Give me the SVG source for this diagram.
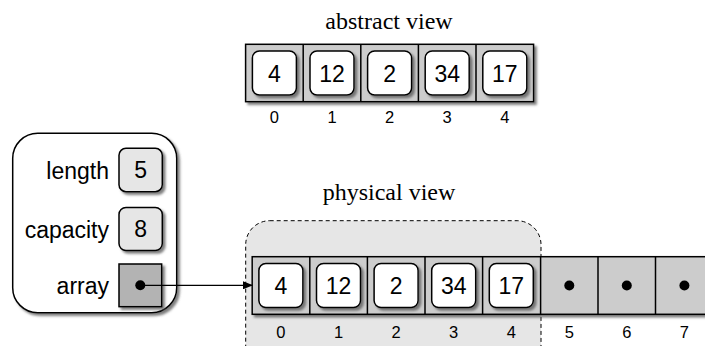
<svg xmlns="http://www.w3.org/2000/svg" width="705" height="346" viewBox="0 0 705 346">
<defs>
<filter id="sh" x="-20%" y="-20%" width="140%" height="140%">
<feDropShadow dx="2.5" dy="2.5" stdDeviation="0.8" flood-color="#555" flood-opacity="0.75"/>
</filter>
<marker id="arr" markerWidth="10" markerHeight="8" refX="9" refY="4" orient="auto" markerUnits="userSpaceOnUse">
<path d="M0,0 L10,4 L0,8 z" fill="#000"/>
</marker>
</defs>
<style>
.title{font-family:"Liberation Serif","Times New Roman",serif;font-size:24px;fill:#000;text-anchor:middle}
.lbl{font-family:"Liberation Sans",Arial,sans-serif;font-size:23px;fill:#000;text-anchor:end}
.num{font-family:"Liberation Sans",Arial,sans-serif;font-size:23px;fill:#000;text-anchor:middle}
.idx{font-family:"Liberation Sans",Arial,sans-serif;font-size:16.5px;fill:#000;text-anchor:middle}
.arrbg{fill:#cccccc;stroke:#000;stroke-width:1.5}
.cell{fill:none;stroke:#000;stroke-width:1.5}
.ibox{fill:#fff;stroke:#000;stroke-width:1.5}
.fld{fill:#e6e6e6;stroke:#000;stroke-width:1.5}
.dot{fill:#000}
</style>

<g id="abstract-view">
<text class="title" x="389" y="28.5">abstract view</text>
<rect class="arrbg" x="245.6" y="44.3" width="288" height="57.4" filter="url(#sh)"/>
<g class="cells">
<line class="cell" x1="303.2" y1="44.3" x2="303.2" y2="101.7"/>
<line class="cell" x1="360.8" y1="44.3" x2="360.8" y2="101.7"/>
<line class="cell" x1="418.4" y1="44.3" x2="418.4" y2="101.7"/>
<line class="cell" x1="476" y1="44.3" x2="476" y2="101.7"/>
</g>
<g id="a0"><rect class="ibox" x="252.4" y="51" width="44" height="44" rx="7" filter="url(#sh)"/><text class="num" x="274.4" y="81.5">4</text></g>
<g id="a1"><rect class="ibox" x="310" y="51" width="44" height="44" rx="7" filter="url(#sh)"/><text class="num" x="332" y="81.5">12</text></g>
<g id="a2"><rect class="ibox" x="367.6" y="51" width="44" height="44" rx="7" filter="url(#sh)"/><text class="num" x="389.6" y="81.5">2</text></g>
<g id="a3"><rect class="ibox" x="425.2" y="51" width="44" height="44" rx="7" filter="url(#sh)"/><text class="num" x="447.2" y="81.5">34</text></g>
<g id="a4"><rect class="ibox" x="482.8" y="51" width="44" height="44" rx="7" filter="url(#sh)"/><text class="num" x="504.8" y="81.5">17</text></g>
<text class="idx" x="274.4" y="123">0</text>
<text class="idx" x="332" y="123">1</text>
<text class="idx" x="389.6" y="123">2</text>
<text class="idx" x="447.2" y="123">3</text>
<text class="idx" x="504.8" y="123">4</text>
</g>

<g id="struct">
<rect x="12.7" y="133.3" width="164" height="179.4" rx="25" fill="#fff" stroke="#000" stroke-width="1.5" filter="url(#sh)"/>
<g id="length">
<text class="lbl" x="109" y="179">length</text>
<rect class="fld" x="119" y="148.3" width="43.3" height="43.4" rx="7" filter="url(#sh)"/>
<text class="num" x="140.6" y="178.3">5</text>
</g>
<g id="capacity">
<text class="lbl" x="109" y="237.5">capacity</text>
<rect class="fld" x="119" y="207.5" width="43.3" height="43" rx="7" filter="url(#sh)"/>
<text class="num" x="140.6" y="237.3">8</text>
</g>
<g id="array">
<text class="lbl" x="109" y="293.5">array</text>
<rect x="119" y="264" width="42.7" height="42.7" fill="#b3b3b3" stroke="#000" stroke-width="1.5" filter="url(#sh)"/>
<circle class="dot" cx="140.3" cy="285.3" r="5"/>
</g>
</g>

<g id="physical-view">
<text class="title" x="389" y="200">physical view</text>
<rect x="245.7" y="220.7" width="295.3" height="150" rx="24" fill="#e6e6e6" stroke="#000" stroke-width="1" stroke-dasharray="4,3"/>
<rect class="arrbg" x="252.2" y="256.7" width="470" height="57.6" filter="url(#sh)"/>
<g class="cells">
<line class="cell" x1="309.8" y1="256.7" x2="309.8" y2="314.3"/>
<line class="cell" x1="367.4" y1="256.7" x2="367.4" y2="314.3"/>
<line class="cell" x1="425" y1="256.7" x2="425" y2="314.3"/>
<line class="cell" x1="482.6" y1="256.7" x2="482.6" y2="314.3"/>
<line class="cell" x1="540.6" y1="256.7" x2="540.6" y2="314.3"/>
<line class="cell" x1="598" y1="256.7" x2="598" y2="314.3"/>
<line class="cell" x1="655.5" y1="256.7" x2="655.5" y2="314.3"/>
</g>
<g id="p0"><rect class="ibox" x="258.9" y="263.5" width="44" height="44" rx="7" filter="url(#sh)"/><text class="num" x="280.9" y="294">4</text></g>
<g id="p1"><rect class="ibox" x="316.5" y="263.5" width="44" height="44" rx="7" filter="url(#sh)"/><text class="num" x="338.5" y="294">12</text></g>
<g id="p2"><rect class="ibox" x="374.1" y="263.5" width="44" height="44" rx="7" filter="url(#sh)"/><text class="num" x="396.1" y="294">2</text></g>
<g id="p3"><rect class="ibox" x="431.7" y="263.5" width="44" height="44" rx="7" filter="url(#sh)"/><text class="num" x="453.7" y="294">34</text></g>
<g id="p4"><rect class="ibox" x="489.3" y="263.5" width="44" height="44" rx="7" filter="url(#sh)"/><text class="num" x="511.3" y="294">17</text></g>
<circle class="dot" cx="569.3" cy="285.5" r="5"/>
<circle class="dot" cx="626.8" cy="285.5" r="5"/>
<circle class="dot" cx="684.4" cy="285.5" r="5"/>
<text class="idx" x="280.9" y="338">0</text>
<text class="idx" x="338.5" y="338">1</text>
<text class="idx" x="396.1" y="338">2</text>
<text class="idx" x="453.7" y="338">3</text>
<text class="idx" x="511.3" y="338">4</text>
<text class="idx" x="569.3" y="338">5</text>
<text class="idx" x="626.8" y="338">6</text>
<text class="idx" x="684.4" y="338">7</text>
</g>

<g id="connectors">
<line x1="140.3" y1="285.3" x2="252" y2="285.3" stroke="#000" stroke-width="1.3" marker-end="url(#arr)"/>
</g>
</svg>
